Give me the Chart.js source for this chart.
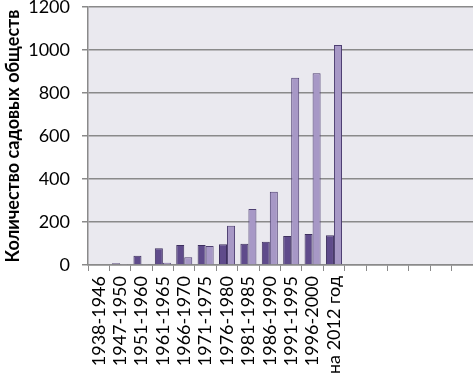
<!DOCTYPE html>
<html>
<head>
<meta charset="utf-8">
<script src="https://cdn.jsdelivr.net/npm/chart.js@4"></script>
<style>
html,body{margin:0;padding:0;background:#fff;}
#wrap{width:473px;height:380px;}
</style>
</head>
<body>
<div id="wrap"><canvas id="c" width="473" height="380"></canvas></div>
<script>
const categories = ["1938-1946","1947-1950","1951-1960","1961-1965","1966-1970","1971-1975","1976-1980","1981-1985","1986-1990","1991-1995","1996-2000","на 2012 год","","","","","",""];
const seriesA = [0, 8, 43, 78, 93, 93, 96, 99, 108, 135, 144, 138, null, null, null, null, null, null];
const seriesB = [0, 2, 2, 10, 36, 88, 183, 260, 341, 871, 892, 1023, null, null, null, null, null, null];
const yTicks = [0, 200, 400, 600, 800, 1000, 1200];
const yTitle = "Количество садовых обществ";

const FONT = "Lato, 'Open Sans', sans-serif";

const bgPlugin = {
  id: 'plotBg',
  beforeDraw(chart) {
    const {ctx, chartArea: a} = chart;
    ctx.save();
    ctx.fillStyle = '#ffffff';
    ctx.fillRect(0, 0, chart.width, chart.height);
    ctx.fillStyle = '#EAE9EF';
    ctx.fillRect(a.left, a.top, a.right - a.left, a.bottom - a.top);
    ctx.restore();
  }
};

new Chart(document.getElementById('c'), {
  type: 'bar',
  data: {
    labels: categories,
    datasets: [
      { data: seriesA, backgroundColor: '#5F4B8B', borderColor: '#3E305F', borderWidth: 1 },
      { data: seriesB, backgroundColor: '#A798C6', borderColor: '#4E3F72', borderWidth: 1 }
    ]
  },
  plugins: [bgPlugin],
  options: {
    responsive: false,
    animation: false,
    devicePixelRatio: 1,
    layout: { padding: { top: 7, right: 0, left: 0, bottom: 0 } },
    plugins: { legend: { display: false }, tooltip: { enabled: false } },
    datasets: { bar: { categoryPercentage: 0.75, barPercentage: 1.0 } },
    scales: {
      x: {
        offset: true,
        grid: { display: true, drawOnChartArea: false, offset: true, tickLength: 6, color: '#8a8a8a', lineWidth: 1 },
        border: { display: true, color: '#8a8a8a', width: 1.5 },
        ticks: { autoSkip: false, maxRotation: 90, minRotation: 90, color: '#000', padding: 5, font: { family: FONT, size: 18 } },
        afterFit(axis) { axis.height = 115; axis.paddingLeft = 0; axis.paddingRight = 0; }
      },
      y: {
        min: 0, max: 1200,
        afterBuildTicks(axis) { axis.ticks = yTicks.map(v => ({ value: v })); },
        grid: { color: '#8a8a8a', lineWidth: 1.5, tickLength: 6 },
        border: { display: true, color: '#8a8a8a', width: 1.5 },
        ticks: { color: '#000', padding: 12, font: { family: FONT, size: 18 }, callback: (v) => String(v) },
        title: { display: true, text: yTitle, color: '#000', padding: { top: 2, bottom: 2 }, font: { family: FONT, size: 18, weight: 'bold' } },
        afterFit(axis) { axis.width = 88; axis.paddingTop = 0; axis.paddingBottom = 0; }
      }
    }
  }
});
</script>
</body>
</html>
